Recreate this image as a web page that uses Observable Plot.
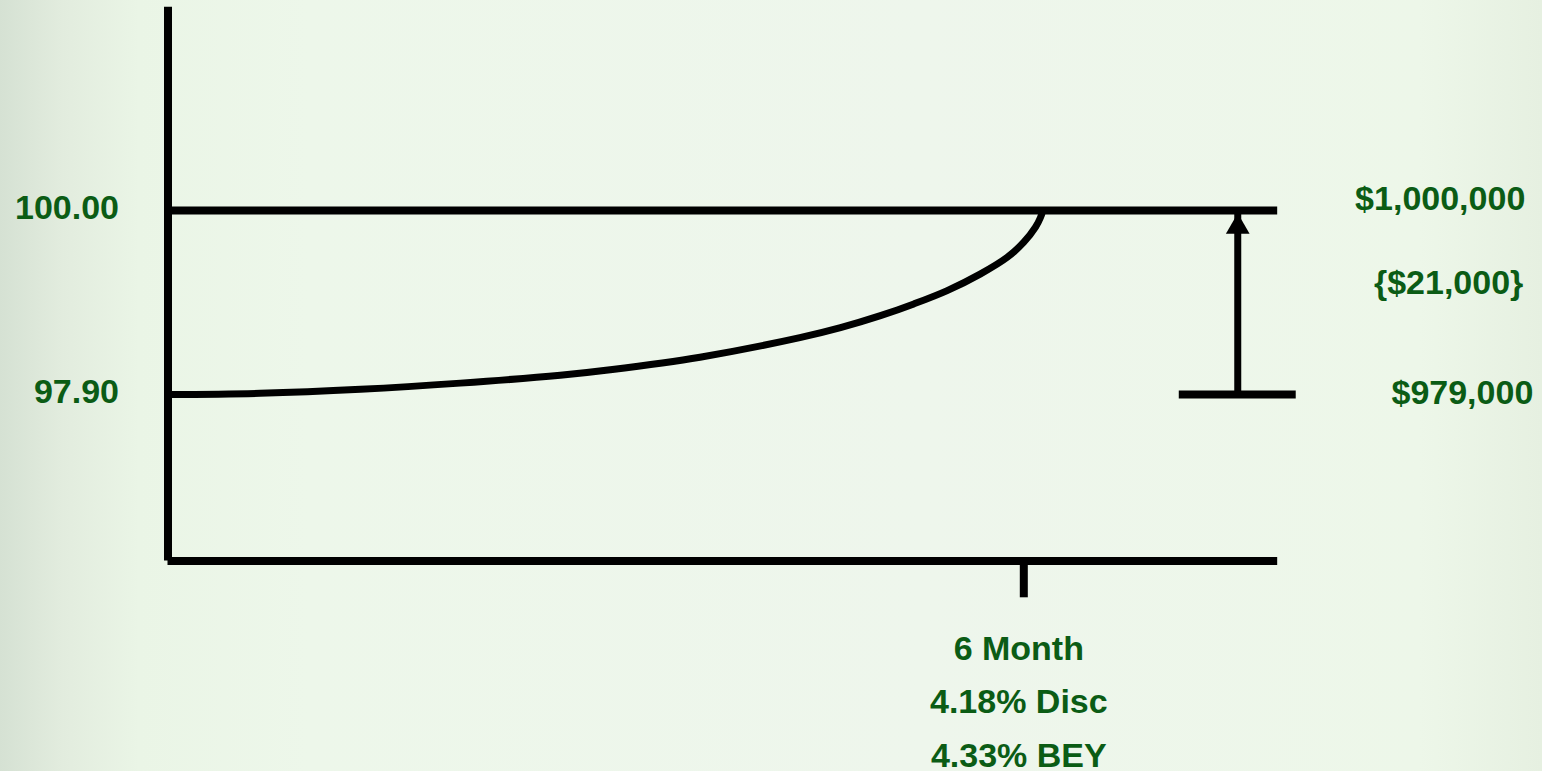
<!DOCTYPE html>
<html>
<head>
<meta charset="utf-8">
<script src="https://cdn.jsdelivr.net/npm/d3@7"></script>
<script src="https://cdn.jsdelivr.net/npm/@observablehq/plot@0.6"></script>
<style>
  html, body { margin: 0; padding: 0; width: 1542px; height: 771px; overflow: hidden; }
  body {
    background: linear-gradient(to right, #D5E1D3 0%, #E2ECDE 4%, #EAF5E6 9%, #EDF7EA 20%, #EEF6EC 60%, #EDF7E9 92%, #E6F0E1 100%);
  }
  #chart svg { display: block; }
</style>
</head>
<body>
<div id="chart"></div>
<script>
// ---- data ----
const parPrice = 100.00;
const billPrice = 97.90;
const floorPrice = 96.00;
const axisTopPrice = 102.32;
const maturityMonths = 6;
const axisEndMonths = 7.78;
const discountRate = 4.18;
const beyRate = 4.33;
const faceValue = 1000000;
const discountAmount = 21000;
const purchaseValue = 979000;

// price path of the bill (months, price)
const pathMonths = [0, 0.645, 1.35, 2.05, 2.75, 3.10, 3.73, 4.43, 4.715, 4.995, 5.229, 5.463, 5.697, 5.884, 6.000, 6.082, 6.117, 6.133];
const pathPrices = [97.90, 97.914, 97.96, 98.03, 98.12, 98.183, 98.326, 98.549, 98.663, 98.80, 98.934, 99.086, 99.277, 99.466, 99.638, 99.81, 99.92, 100.00];

// arrow showing the discount
const arrowMonths = 7.5;
const arrowBaseFrom = 7.09;
const arrowBaseTo = 7.91;
const labelColumnMonths = 9.53;

const priceTickLabels = [parPrice, billPrice];
const maturityLabels = [`${maturityMonths} Month`, `${discountRate.toFixed(2)}% Disc`, `${beyRate.toFixed(2)}% BEY`];

const curve = pathMonths.map((m, i) => ({month: m, price: pathPrices[i]}));
const fmtDollar = d3.format("$,");

const green = "#0B5C15";
const font = "'Liberation Sans', Arial, Helvetica, sans-serif";
const textStyle = {fill: green, fontSize: 34, fontWeight: "bold", fontFamily: font};

const maturityText = (i, dy) => Plot.text([maturityLabels[i]], {
  x: () => maturityMonths, y: () => floorPrice, text: d => d,
  textAnchor: "middle", dx: -5, dy, ...textStyle
});

const chart = Plot.plot({
  width: 1542,
  height: 771,
  margin: 0,
  x: {domain: [0, maturityMonths], range: [167.5, 1023.3], axis: null},
  y: {domain: [floorPrice, parPrice], range: [560.5, 210], axis: null},
  style: {background: "transparent", overflow: "visible"},
  marks: [
    // vertical (price) axis
    Plot.ruleX([0], {y1: floorPrice, y2: axisTopPrice, stroke: "black", strokeWidth: 8}),
    // time axis
    Plot.ruleY([floorPrice], {x1: 0, x2: axisEndMonths, stroke: "black", strokeWidth: 8}),
    // par line
    Plot.ruleY([parPrice], {x1: 0, x2: axisEndMonths, stroke: "black", strokeWidth: 8}),
    // maturity tick
    Plot.ruleX([maturityMonths], {y1: floorPrice, y2: floorPrice - 0.42, stroke: "black", strokeWidth: 8}),
    // accretion path
    Plot.line(curve, {x: "month", y: "price", curve: "catmull-rom", stroke: "black", strokeWidth: 7, strokeLinecap: "butt"}),
    // discount arrow
    Plot.ruleY([billPrice], {x1: arrowBaseFrom, x2: arrowBaseTo, stroke: "black", strokeWidth: 8}),
    Plot.ruleX([arrowMonths], {y1: billPrice, y2: parPrice, stroke: "black", strokeWidth: 7}),
    Plot.dot([parPrice], {x: () => arrowMonths, y: d => d, symbol: "triangle", r: 8.8, fill: "black", stroke: "none", dy: 16.4}),
    // left price labels
    Plot.text(priceTickLabels, {x: () => 0, y: d => d, text: d => d.toFixed(2), textAnchor: "end", dx: -49, dy: -2.5, ...textStyle}),
    // right dollar labels
    Plot.text([faceValue], {x: () => labelColumnMonths, y: () => parPrice, text: d => fmtDollar(d), textAnchor: "end", dy: -11.6, dx: -2, ...textStyle}),
    Plot.text([discountAmount], {x: () => labelColumnMonths, y: () => (parPrice + billPrice) / 2, text: d => `{${fmtDollar(d)}}`, textAnchor: "end", dy: -19.8, dx: -4, ...textStyle}),
    Plot.text([purchaseValue], {x: () => labelColumnMonths, y: () => billPrice, text: d => fmtDollar(d), textAnchor: "end", dy: -1.6, dx: 6, ...textStyle}),
    // maturity labels
    maturityText(0, 88.6),
    maturityText(1, 141.6),
    maturityText(2, 195.6)
  ]
});
document.getElementById("chart").appendChild(chart);
</script>
</body>
</html>
